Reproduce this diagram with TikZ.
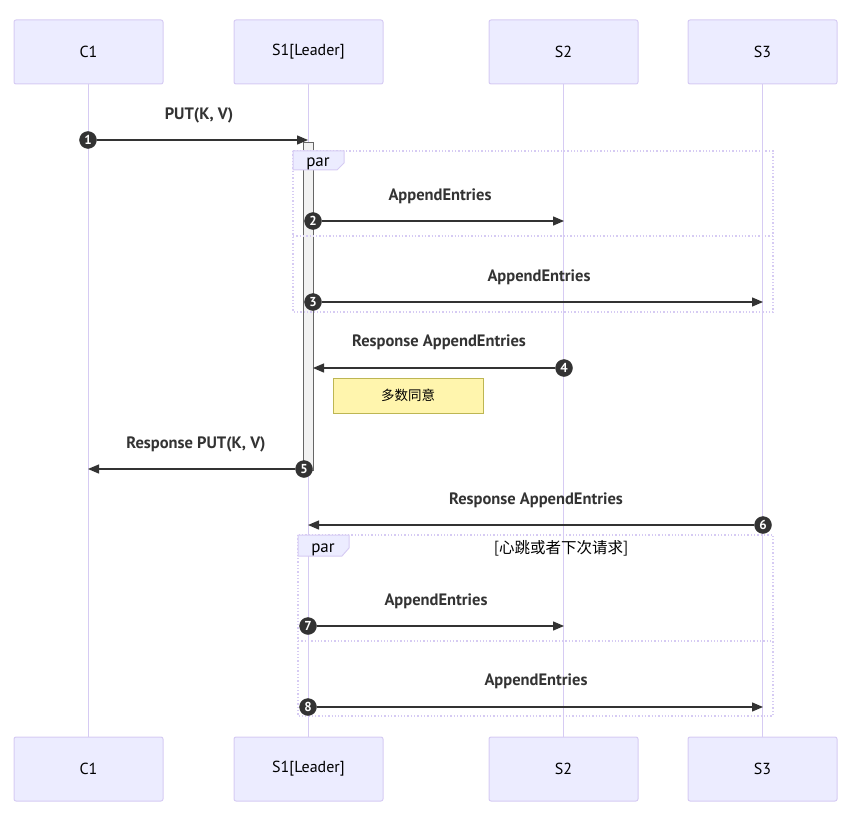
\documentclass[tikz,border=0pt]{standalone}
\usepackage{fontspec}
\setmainfont{PT Sans}
\newfontfamily\cjk{Noto Sans CJK SC}
\usetikzlibrary{arrows.meta}
\definecolor{actfill}{HTML}{ECECFF}
\definecolor{actdraw}{HTML}{D6CBF3}
\definecolor{ink}{HTML}{333333}
\definecolor{notefill}{HTML}{FFF5AD}
\definecolor{notedraw}{HTML}{BDB653}
\tikzset{
  actor/.style={draw=actdraw, fill=actfill, line width=1pt, rounded corners=2pt,
    minimum width=149pt, minimum height=64pt, inner sep=0pt, font=\fontsize{16}{18}\selectfont, text=black},
  life/.style={draw=actdraw, line width=1.8pt},
  msg/.style={draw=ink, line width=1.3pt, -{Triangle[length=11pt,width=9pt]}},
  num/.style={circle, fill=ink, draw=ink, inner sep=0pt, minimum size=17pt, text=white,
    font=\bfseries\fontsize{13}{13}\selectfont},
  lbl/.style={text=ink, font=\bfseries\fontsize{16.5}{18}\selectfont, inner sep=0pt},
  parbox/.style={draw=actdraw, line width=1.3pt, dotted},
  partab/.style={draw=actdraw, fill=actfill, line width=1pt},
  activ/.style={draw=black!60, fill=black!5, line width=1pt},
}
\begin{document}
\begin{tikzpicture}[x=1pt,y=-1pt]
\useasboundingbox (0,0) rectangle (858,826);
% actors
\node[actor] (C1t) at (88.5,52) {C1};
\node[actor] (S1t) at (308.5,52) {S1[Leader]};
\node[actor] (S2t) at (563.5,52) {S2};
\node[actor] (S3t) at (762.5,52) {S3};
\node[actor] (C1b) at (88.5,769) {C1};
\node[actor] (S1b) at (308.5,769) {S1[Leader]};
\node[actor] (S2b) at (563.5,769) {S2};
\node[actor] (S3b) at (762.5,769) {S3};
% lifelines
\draw[life] (C1t.south) -- (C1b.north);
\draw[life] (S1t.south) -- (S1b.north);
\draw[life] (S2t.south) -- (S2b.north);
\draw[life] (S3t.south) -- (S3b.north);
% activation
\node[activ, minimum width=10pt, minimum height=328pt, inner sep=0pt, anchor=north] (act) at (308,142) {};
% par 1
\draw[parbox] (293,151) rectangle (773,312);
\draw[parbox] (293,236) -- (773,236);
\draw[partab] (293,151) -- (344,151) -- (344,163) -- (337,170) -- (293,170) -- cycle;
\node[font=\fontsize{17}{18}\selectfont, text=black, anchor=base] (par1) at (318,167) {par};
% par 2
\draw[parbox] (298,535) rectangle (773,716);
\draw[parbox] (298,641) -- (773,641);
\draw[partab] (298,535) -- (349,535) -- (349,548) -- (342,556) -- (298,556) -- cycle;
\node[font=\fontsize{17}{18}\selectfont, text=black, anchor=base] (par2) at (323,552) {par};
\node[font=\cjk\fontsize{15.5}{17}\selectfont, text=black] (cond) at (561,548) {[心跳或者下次请求]};
% note
\node[draw=notedraw, fill=notefill, line width=1pt, minimum width=150pt, minimum height=35pt,
  inner sep=0pt, font=\cjk\fontsize{13.5}{15}\selectfont] (note) at (408,395.5) {多数同意};
% message 1
\node[lbl] (l1) at (199,115) {PUT(K, V)};
\coordinate (e1) at (308,140);
\node[num] (n1) at (88,140) {1};
\draw[msg] (n1) -- (e1);
% message 2
\node[lbl] (l2) at (440,196) {AppendEntries};
\coordinate (e2) at (564,221);
\node[num] (n2) at (313,221) {2};
\draw[msg] (n2) -- (e2);
% message 3
\node[lbl] (l3) at (539,277) {AppendEntries};
\coordinate (e3) at (763,302);
\node[num] (n3) at (313,302) {3};
\draw[msg] (n3) -- (e3);
% message 4
\node[lbl] (l4) at (439,342) {Response AppendEntries};
\coordinate (e4) at (313,368);
\node[num] (n4) at (564,368) {4};
\draw[msg] (n4) -- (e4);
% message 5
\node[lbl] (l5) at (196,444) {Response PUT(K, V)};
\coordinate (e5) at (88,469);
\node[num] (n5) at (304,469) {5};
\draw[msg] (n5) -- (e5);
% message 6
\node[lbl] (l6) at (536,500) {Response AppendEntries};
\coordinate (e6) at (308,525);
\node[num] (n6) at (763,525) {6};
\draw[msg] (n6) -- (e6);
% message 7
\node[lbl] (l7) at (436,601) {AppendEntries};
\coordinate (e7) at (564,626);
\node[num] (n7) at (308,626) {7};
\draw[msg] (n7) -- (e7);
% message 8
\node[lbl] (l8) at (536,681) {AppendEntries};
\coordinate (e8) at (763,707);
\node[num] (n8) at (308,707) {8};
\draw[msg] (n8) -- (e8);
\end{tikzpicture}
\end{document}
